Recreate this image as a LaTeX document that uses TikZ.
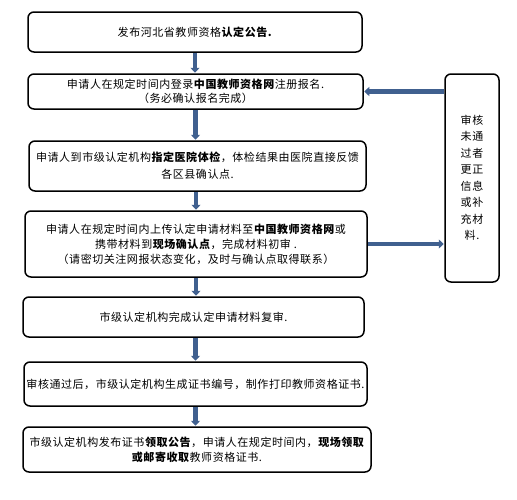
\documentclass[tikz,border=0pt]{standalone}
\usepackage{fontspec}
\setmainfont{Noto Sans CJK SC}[LetterSpace=5]
\usetikzlibrary{arrows.meta}
\definecolor{arrblue}{HTML}{40608F}
\tikzset{
  box/.style={draw=black, line width=1.5pt, rounded corners=6pt, rectangle, inner sep=0pt, align=center, font=\fontsize{11}{15}\selectfont},
  flow/.style={draw=arrblue, line width=4.5pt, -{Triangle[length=5pt,width=9pt]}, shorten >=0.5pt}
}
\begin{document}
\begin{tikzpicture}[x=1pt,y=-1pt]
\useasboundingbox (0,0) rectangle (517,499);
\fill[white] (0,0) rectangle (517,499);
\node[box, minimum width=334pt, minimum height=40pt] (b1) at (195,32) {发布河北省教师资格\textbf{认定公告.}};
\node[box, minimum width=335pt, minimum height=35pt] (b2) at (195.5,91.5) {申请人在规定时间内登录\textbf{中国教师资格网}注册报名.\\[-1pt]（务必确认报名完成）};
\node[box, minimum width=337pt, minimum height=50pt] (b3) at (197.5,166) {申请人到市级认定机构\textbf{指定医院体检}，体检结果由医院直接反馈\\[2pt]各区县确认点.};
\node[box, minimum width=342pt, minimum height=66pt] (b4) at (196,244) {申请人在规定时间内上传认定申请材料至\textbf{中国教师资格网}或\\携带材料到\textbf{现场确认点}，完成材料初审 .\\（请密切关注网报状态变化，及时与确认点取得联系）};
\node[box, minimum width=341pt, minimum height=40pt] (b5) at (193.5,317) {市级认定机构完成认定申请材料复审.};
\node[box, minimum width=343pt, minimum height=44pt] (b6) at (195.5,384) {审核通过后，市级认定机构生成证书编号，制作打印教师资格证书.};
\node[box, minimum width=348pt, minimum height=45pt] (b7) at (197,449.5) {市级认定机构发布证书\textbf{领取公告}，申请人在规定时间内，\textbf{现场领取}\\\textbf{或邮寄收取}教师资格证书.};
\node[box, minimum width=54pt, minimum height=208pt, font=\fontsize{11}{16.5}\selectfont] (r) at (472,178) {审核\\未通\\过者\\更正\\信息\\或补\\充材\\料.};
\draw[flow] (b1.south) -- (b1.south |- b2.north);
\draw[flow] (b2.south) -- (b2.south |- b3.north);
\draw[flow] (b3.south -| b4.north) -- (b4.north);
\draw[flow] (b4.south) -- (b4.south |- b5.north);
\draw[flow] (b5.south -| b6.north) -- (b6.north);
\draw[flow] (b6.south) -- (b6.south |- b7.north);
\draw[flow] (r.west |- b2.east) -- (b2.east);
\draw[flow] (b4.east) -- (b4.east -| r.west);
\end{tikzpicture}
\end{document}
